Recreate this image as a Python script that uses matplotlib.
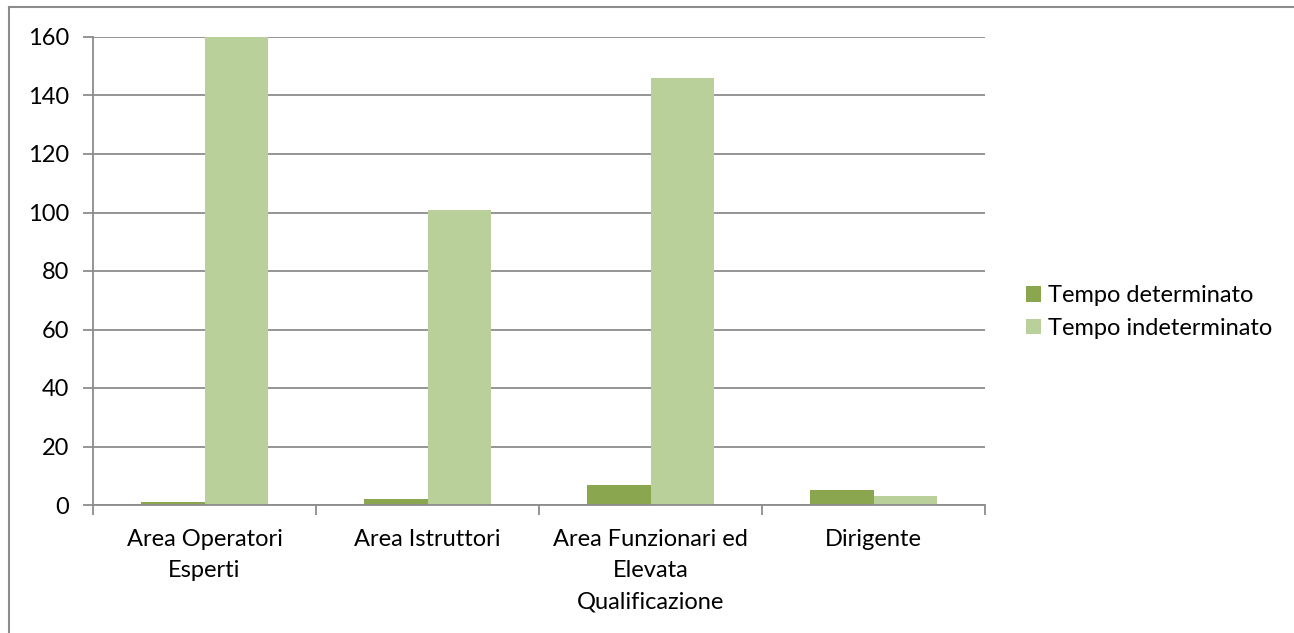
import matplotlib
matplotlib.use("Agg")
import matplotlib.pyplot as plt
import numpy as np
from matplotlib.lines import Line2D
from matplotlib.patches import Patch

categories = ["Area Operatori\nEsperti", "Area Istruttori",
              "Area Funzionari ed\nElevata\nQualificazione", "Dirigente"]
series_names = ["Tempo determinato", "Tempo indeterminato"]
tempo_determinato = [1, 2, 7, 5]
tempo_indeterminato = [160, 101, 146, 3]
y_ticks = [0, 20, 40, 60, 80, 100, 120, 140, 160]

dark_green = "#8aa64f"
light_green = "#bad09a"
grid_grey = "#8c8c8c"
font_size = 17

plt.rcParams["font.family"] = ["Lato", "DejaVu Sans"]

fig = plt.figure(figsize=(12.94, 6.33), dpi=100)
ax = fig.add_axes([93 / 1294, 1 - 505 / 633, (985 - 93) / 1294, (505 - 37) / 633])

x = np.arange(len(categories))
w = 1 / 3.5
ax.bar(x - w / 2, tempo_determinato, width=w, color=dark_green, zorder=3)
ax.bar(x + w / 2, tempo_indeterminato, width=w, color=light_green, zorder=3)

ax.set_xlim(-0.5, len(categories) - 0.5)
ax.set_ylim(0, 160)
ax.set_yticks(y_ticks)
ax.set_yticklabels([str(v) for v in y_ticks], fontsize=font_size)
ax.yaxis.grid(True, color=grid_grey, linewidth=1.3, zorder=0)

ax.set_xticks(x)
ax.set_xticklabels(categories, fontsize=font_size, linespacing=1.62, va="top")
ax.tick_params(axis="x", length=0, pad=17)
ax.set_xticks(np.arange(len(categories) + 1) - 0.5, minor=True)
ax.tick_params(axis="x", which="minor", length=7, color=grid_grey, width=1.3)
ax.tick_params(axis="y", length=7, color=grid_grey, width=1.3, pad=10)

for side in ["top", "right"]:
    ax.spines[side].set_visible(False)
for side in ["left", "bottom"]:
    ax.spines[side].set_color(grid_grey)
    ax.spines[side].set_linewidth(1.3)
    ax.spines[side].set_zorder(4)

handles = [Patch(facecolor=dark_green, edgecolor="none"),
           Patch(facecolor=light_green, edgecolor="none")]
fig.legend(handles, series_names, loc="center left",
           bbox_to_anchor=(1026 / 1294, 1 - 312 / 633), frameon=False,
           fontsize=font_size, handlelength=0.65, handleheight=0.65,
           handletextpad=0.3, labelspacing=0.5, borderaxespad=0,
           borderpad=0)

# outer chart frame (left and top edges)
fig.add_artist(Line2D([9 / 1294, 9 / 1294], [0, 1 - 7 / 633],
                      transform=fig.transFigure, color="#8c8c8c", linewidth=1.5))
fig.add_artist(Line2D([9 / 1294, 1], [1 - 7 / 633, 1 - 7 / 633],
                      transform=fig.transFigure, color="#8c8c8c", linewidth=1.5))

fig.savefig("out.png", dpi=100, facecolor="white")
